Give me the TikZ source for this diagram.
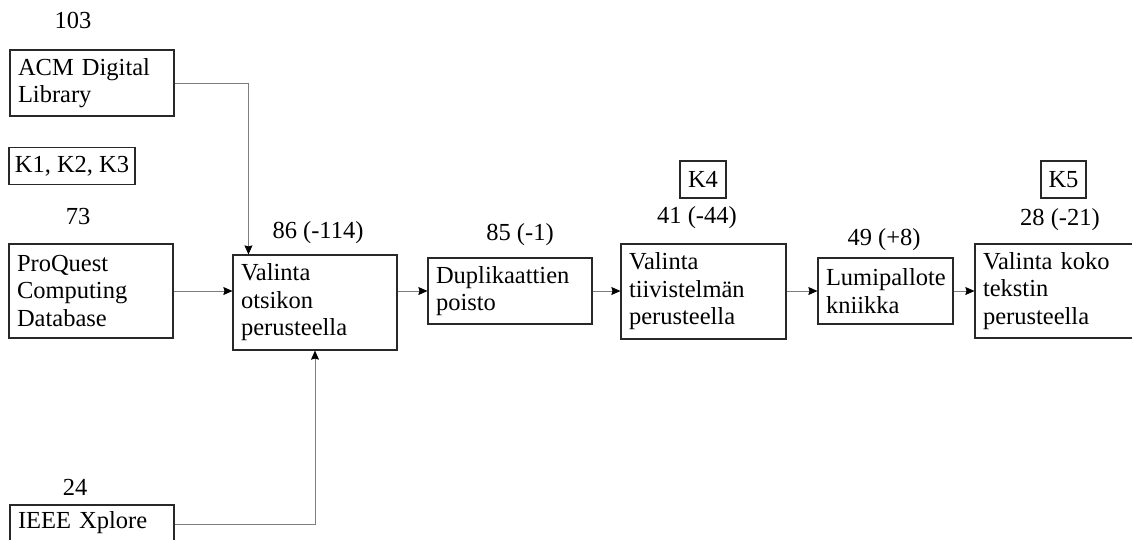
\documentclass[tikz,border=0pt]{standalone}
\usepackage{fontspec}
\setmainfont{Liberation Serif}
\usepackage{tikz}
\usetikzlibrary{arrows.meta,calc}
\definecolor{ColLine}{RGB}{125,125,125}
\definecolor{ColBox}{RGB}{40,40,40}

\begin{document}
\begin{tikzpicture}[
  x=1pt, y=-1pt,
  >={Stealth[length=3.2mm,width=2.8mm,inset=0.4mm,color=black]},
  line join=miter,
  every node/.style={font=\fontsize{24.5}{27.5}\selectfont},
  box/.style={draw=ColBox, line width=1.1pt, inner xsep=8pt, inner ysep=0pt,
    align=left, text width=#1-16pt, minimum width=#1},
  box/.default=164pt,
  kbox/.style={draw=ColBox, line width=1.1pt, inner sep=0pt, minimum height=37pt},
  count/.style={inner sep=0pt},
  link/.style={->, ColLine, line width=0.9pt}
]
  \useasboundingbox (0,0) rectangle (1132,539);
  \coordinate (lvl) at (0,291);

  % Databases and search terms
  \node[count] (c103) at (73,20) {103};
  \node[box, minimum height=66pt] (acm) at (92,83) {ACM Digital\\Library};
  \node[kbox, minimum width=126pt] (kcrit) at (72,166) {K1, K2, K3};
  \node[count] (c73) at (78,217) {73};
  \node[box, minimum height=94pt] (proquest) at (91,291) {ProQuest\\Computing\\Database};
  \node[count] (c24) at (75,487) {24};
  \node[box, minimum height=66pt] (ieee) at (92,538) {IEEE Xplore\\ \strut};

  % Selection chain
  \node[count] (c86) at (318,233) {86 (-114)};
  \node[box, minimum height=95pt] (otsikko) at (315,302.5) {Valinta\\otsikon\\perusteella};
  \node[count] (c85) at (520,235) {85 (-1)};
  \node[box, minimum height=66pt] (dupl) at (510,291) {Duplikaattien\\poisto};
  \node[kbox, minimum width=46pt] (k4) at (703,179.5) {K4};
  \node[count] (c41) at (697,218) {41 (-44)};
  \node[box=165pt, minimum height=95pt] (tiiv) at (703.5,291.5) {Valinta\\tiivistelmän\\perusteella};
  \node[count] (c49) at (884,240) {49 (+8)};
  \node[box=135pt, minimum height=66pt] (lumi) at (885.5,291) {Lumipallote\\kniikka};
  \node[kbox, minimum width=45pt] (k5) at (1063.5,179.5) {K5};
  \node[count] (c28) at (1060,220) {28 (-21)};
  \node[box, minimum height=94pt] (koko) at (1057,291) {Valinta koko\\tekstin\\perusteella};

  % Connectors
  \draw[link] (acm.east) -| ([xshift=16pt]otsikko.north west);
  \draw[link] (proquest.east) -- (proquest.east -| otsikko.west);
  \draw[link] ([yshift=14pt]ieee.east) -| (otsikko.south);
  \draw[link] (otsikko.east |- lvl) -- (dupl.west |- lvl);
  \draw[link] (dupl.east |- lvl) -- (tiiv.west |- lvl);
  \draw[link] (tiiv.east |- lvl) -- (lumi.west |- lvl);
  \draw[link] (lumi.east |- lvl) -- (koko.west |- lvl);
\end{tikzpicture}
\end{document}
